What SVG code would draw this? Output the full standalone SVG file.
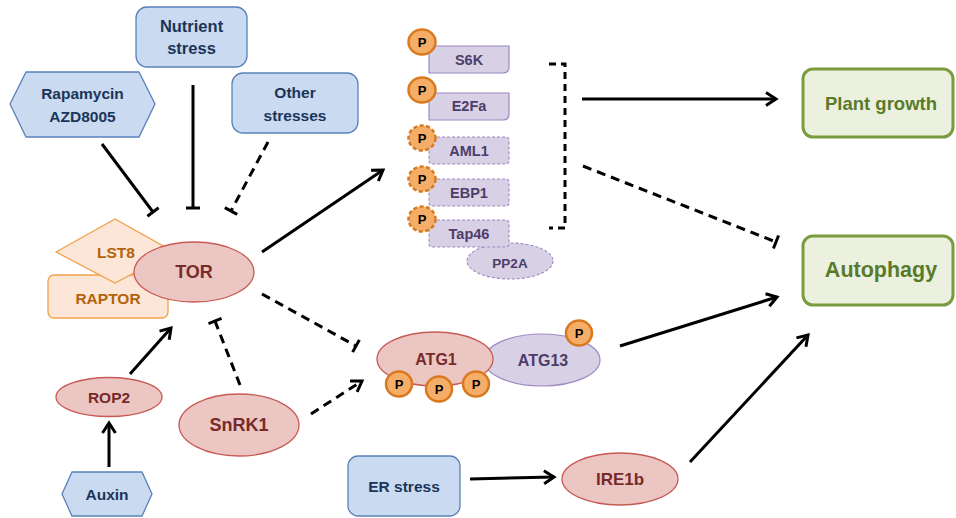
<svg xmlns="http://www.w3.org/2000/svg" width="956" height="518" viewBox="0 0 956 518">
<defs>
<style>
text{font-family:"Liberation Sans",Arial,sans-serif;font-weight:bold;text-anchor:middle;dominant-baseline:central}
.blue{fill:#c9daf1;stroke:#5a82b8;stroke-width:1.3}
.tb{fill:#1b3558;font-size:15.5px}
.red{fill:#ecc6c3;stroke:#c75a55;stroke-width:1.3}
.tr{fill:#772b29}
.org{fill:#fce6d7;stroke:#f1a24a;stroke-width:1.3}
.to{fill:#b3620c;font-size:15.5px}
.pur{fill:#d8d0e4;stroke:#9c8ac3;stroke-width:1.2}
.purd{fill:#d8d0e4;stroke:#9c8ac3;stroke-width:1.1;stroke-dasharray:3,2}
.tp{fill:#4c3d6b;font-size:14.5px}
.pc{fill:#f5ae68;stroke:#d9791f;stroke-width:2.5}
.pcd{fill:#f5ae68;stroke:#d9791f;stroke-width:2.5;stroke-dasharray:4,2.5}
.tP{fill:#000;font-size:13px}
.grn{fill:#ebf1de;stroke:#7b9b3f;stroke-width:3}
.tg{fill:#5a7a2b}
.ln{fill:none;stroke:#000;stroke-width:3}
.dsh{stroke-dasharray:9,6}
</style>
<marker id="arr" markerUnits="userSpaceOnUse" markerWidth="16" markerHeight="16" refX="13" refY="8" orient="auto" viewBox="0 0 16 16">
<path d="M3,1.5 L13,8 L3,14.5" fill="none" stroke="#000" stroke-width="3"/>
</marker>
<marker id="bar" markerUnits="userSpaceOnUse" markerWidth="6" markerHeight="16" refX="3" refY="8" orient="auto" viewBox="0 0 6 16">
<path d="M3,1 L3,15" fill="none" stroke="#000" stroke-width="3"/>
</marker>
</defs>
<rect width="956" height="518" fill="#fff"/>

<g id="connectors">
<line class="ln" x1="102" y1="144" x2="153" y2="212" marker-end="url(#bar)"/>
<line class="ln" x1="193" y1="85" x2="193" y2="208" marker-end="url(#bar)"/>
<line class="ln dsh" x1="268" y1="142" x2="231" y2="211" marker-end="url(#bar)"/>
<line class="ln" x1="109" y1="467" x2="109" y2="423" marker-end="url(#arr)"/>
<line class="ln" x1="130" y1="374" x2="171" y2="328" marker-end="url(#arr)"/>
<line class="ln dsh" x1="240" y1="385" x2="215" y2="321" marker-end="url(#bar)"/>
<line class="ln" x1="262" y1="252" x2="383" y2="170" marker-end="url(#arr)"/>
<line class="ln dsh" x1="262" y1="294" x2="356" y2="346" marker-end="url(#bar)"/>
<line class="ln dsh" x1="311" y1="414" x2="362" y2="381" marker-end="url(#arr)"/>
<polyline class="ln" style="stroke-dasharray:7,5" points="549,64 565,64 565,228 549,228"/>
<line class="ln" x1="582" y1="99" x2="776" y2="99" marker-end="url(#arr)"/>
<line class="ln dsh" x1="583" y1="166" x2="776" y2="242" marker-end="url(#bar)"/>
<line class="ln" x1="620" y1="346" x2="777" y2="297" marker-end="url(#arr)"/>
<line class="ln" x1="470" y1="479" x2="554" y2="477" marker-end="url(#arr)"/>
<line class="ln" x1="690" y1="462" x2="808" y2="335" marker-end="url(#arr)"/>
</g>

<g id="nutrient-stress">
<rect class="blue" x="136" y="7" width="111" height="60" rx="11"/>
<text class="tb" x="191.5" y="26" style="font-size:16.5px">Nutrient</text>
<text class="tb" x="191.5" y="48" style="font-size:16.5px">stress</text>
</g>
<g id="rapamycin">
<polygon class="blue" points="10,104 26,72 139,72 155,104 139,137 26,137"/>
<text class="tb" x="82.5" y="93">Rapamycin</text>
<text class="tb" x="82.5" y="116">AZD8005</text>
</g>
<g id="other-stresses">
<rect class="blue" x="232" y="73" width="126" height="60" rx="11"/>
<text class="tb" x="295" y="92">Other</text>
<text class="tb" x="295" y="115">stresses</text>
</g>

<g id="raptor">
<rect class="org" x="48" y="275" width="120" height="43" rx="6"/>
<text class="to" x="108" y="298">RAPTOR</text>
</g>
<g id="lst8">
<polygon class="org" points="56,252 115,219 174,252 115,283"/>
<text class="to" x="116" y="252">LST8</text>
</g>
<g id="tor">
<ellipse class="red" cx="194" cy="272" rx="60" ry="30"/>
<text class="tr" x="194" y="272" style="font-size:18px">TOR</text>
</g>
<g id="rop2">
<ellipse class="red" cx="109" cy="397" rx="53" ry="19.5"/>
<text class="tr" x="109" y="397" style="font-size:15.5px">ROP2</text>
</g>
<g id="snrk1">
<ellipse class="red" cx="239" cy="425" rx="60" ry="31"/>
<text class="tr" x="239" y="425" style="font-size:18px">SnRK1</text>
</g>
<g id="auxin">
<polygon class="blue" points="62,494 72,472 142,472 152,494 142,516 72,516"/>
<text class="tb" x="107" y="494">Auxin</text>
</g>

<g id="s6k">
<path class="pur" d="M429,46 H509 V67 Q509,73 503,73 H429 Z"/>
<text class="tp" x="469" y="60">S6K</text>
<ellipse class="pc" cx="422" cy="42" rx="13.5" ry="12.5"/>
<text class="tP" x="422" y="42">P</text>
</g>
<g id="e2fa">
<path class="pur" d="M429,93 H509 V114 Q509,120 503,120 H429 Z"/>
<text class="tp" x="469" y="106">E2Fa</text>
<ellipse class="pc" cx="422" cy="90" rx="13.5" ry="12.5"/>
<text class="tP" x="422" y="90">P</text>
</g>
<g id="aml1">
<rect class="purd" x="429" y="137" width="80" height="27" rx="3"/>
<text class="tp" x="469" y="151">AML1</text>
<ellipse class="pcd" cx="422" cy="138" rx="13.5" ry="12.5"/>
<text class="tP" x="422" y="138">P</text>
</g>
<g id="ebp1">
<rect class="purd" x="429" y="179" width="80" height="27" rx="3"/>
<text class="tp" x="469" y="193">EBP1</text>
<ellipse class="pcd" cx="422" cy="179" rx="13.5" ry="12.5"/>
<text class="tP" x="422" y="179">P</text>
</g>
<g id="pp2a">
<ellipse class="purd" cx="510" cy="261" rx="43" ry="18"/>
<text class="tp" x="510" y="263" style="font-size:13.5px">PP2A</text>
</g>
<g id="tap46">
<rect class="purd" x="429" y="220" width="80" height="27" rx="3"/>
<text class="tp" x="469" y="234">Tap46</text>
<ellipse class="pcd" cx="422" cy="219" rx="13.5" ry="12.5"/>
<text class="tP" x="422" y="219">P</text>
</g>

<g id="atg13">
<ellipse class="pur" cx="542" cy="360" rx="58" ry="26"/>
<text class="tp" x="543" y="360" style="font-size:16px">ATG13</text>
<ellipse class="pc" cx="579" cy="333" rx="13" ry="12.5"/>
<text class="tP" x="579" y="333">P</text>
</g>
<g id="atg1">
<ellipse class="red" cx="435" cy="359" rx="58" ry="27"/>
<text class="tr" x="436" y="359" style="font-size:16px">ATG1</text>
<ellipse class="pc" cx="399" cy="384" rx="13" ry="12.5"/>
<text class="tP" x="399" y="384">P</text>
<ellipse class="pc" cx="439" cy="389" rx="13" ry="12.5"/>
<text class="tP" x="439" y="389">P</text>
<ellipse class="pc" cx="476" cy="384" rx="13" ry="12.5"/>
<text class="tP" x="476" y="384">P</text>
</g>

<g id="er-stress">
<rect class="blue" x="348" y="456" width="112" height="60" rx="10"/>
<text class="tb" x="404" y="486">ER stress</text>
</g>
<g id="ire1b">
<ellipse class="red" cx="620" cy="479" rx="58" ry="26"/>
<text class="tr" x="620" y="479" style="font-size:17px">IRE1b</text>
</g>

<g id="plant-growth">
<rect class="grn" x="803" y="69" width="150" height="68" rx="10"/>
<text class="tg" x="881" y="103" style="font-size:18.5px">Plant growth</text>
</g>
<g id="autophagy">
<rect class="grn" x="803" y="236" width="150" height="69" rx="10"/>
<text class="tg" x="881" y="270" style="font-size:21.5px">Autophagy</text>
</g>
</svg>
